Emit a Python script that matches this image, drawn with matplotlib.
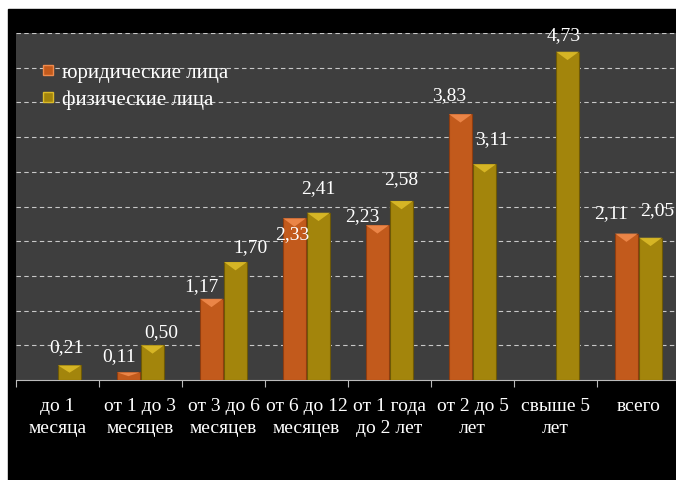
import numpy as np
import matplotlib
matplotlib.use("Agg")
import matplotlib.pyplot as plt
from matplotlib.patches import Polygon, Rectangle
from matplotlib.lines import Line2D

plt.rcParams['font.family'] = ['Liberation Serif', 'DejaVu Serif']

# Данные
categories = ["до 1\nмесяца", "от 1 до 3\nмесяцев", "от 3 до 6\nмесяцев",
              "от 6 до 12\nмесяцев", "от 1 года\nдо 2 лет", "от 2 до 5\nлет",
              "свыше 5\nлет", "всего"]
legal = [np.nan, 0.11, 1.17, 2.33, 2.23, 3.83, np.nan, 2.11]
phys = [0.21, 0.50, 1.70, 2.41, 2.58, 3.11, 4.73, 2.05]
series_names = ["юридические лица", "физические лица"]

# сдвиги подписей (пиксели), как расставил Excel
legal_lbl_off = [(0, 0), (-9, 16), (-10, 12), (-2, -16), (-15, 9), (-11, 19), (0, 0), (-15, 20)]
phys_lbl_off = [(-3, 18), (9, 13), (15, 14), (0, 24), (0, 21), (7, 25), (-4, 16), (7, 27)]

c_legal, c_legal_top, c_legal_edge = "#c25a1c", "#f08a4c", "#8e3d10"
c_phys, c_phys_top, c_phys_edge = "#a3850c", "#dcbb28", "#6e5906"
bg = "#3e3e3e"

fig = plt.figure(figsize=(6.76, 4.8), dpi=100, facecolor="white")
# черная подложка (белая полоса сверху и слева как на скриншоте)
fig.patches.append(Rectangle((8 / 676, 0), 1, (480 - 9) / 480,
                             transform=fig.transFigure, color="black", zorder=-10))

ax = fig.add_axes([16 / 676, 100 / 480, 664 / 676, 347 / 480])
ax.set_facecolor(bg)

x = np.arange(len(categories))
w = 0.275
off = 0.145

b1 = ax.bar(x - off, legal, w, color=c_legal, edgecolor=c_legal_edge, linewidth=0.8, zorder=3)
b2 = ax.bar(x + off, phys, w, color=c_phys, edgecolor=c_phys_edge, linewidth=0.8, zorder=3)

# скошенная верхушка столбцов
for bars, top in ((b1, c_legal_top), (b2, c_phys_top)):
    for r in bars:
        h = r.get_height()
        if np.isnan(h) or h <= 0:
            continue
        x0, bw = r.get_x(), r.get_width()
        d = min(0.12, h * 0.5)
        ax.add_patch(Polygon([(x0, h), (x0 + bw, h), (x0 + bw / 2, h - d)],
                             closed=True, color=top, alpha=0.9, zorder=4, lw=0))

# подписи значений
for bars, vals, offs in ((b1, legal, legal_lbl_off), (b2, phys, phys_lbl_off)):
    for r, v, (dx, dy) in zip(bars, vals, offs):
        if np.isnan(v):
            continue
        ax.annotate(f"{v:.2f}".replace(".", ","),
                    (r.get_x() + r.get_width() / 2, v),
                    xytext=(dx, dy), textcoords="offset pixels",
                    ha="center", va="center", color="white", fontsize=14, zorder=5)

ax.set_ylim(0, 5)
ax.set_xlim(-0.5, len(categories) - 0.5)
ax.set_yticks(np.arange(0.5, 5.01, 0.5))
ax.yaxis.grid(True, color="#c8c8c8", linestyle=(0, (4, 3)), linewidth=0.8, zorder=0)
ax.tick_params(axis="y", left=False, labelleft=False)

ax.set_xticks(np.arange(-0.5, len(categories), 1.0))
ax.set_xticklabels([])
ax.set_xticks(x, minor=True)
ax.set_xticklabels(categories, minor=True, color="white", fontsize=14, linespacing=1.4)
ax.tick_params(axis="x", which="major", length=5, color="#bbbbbb", width=0.8)
ax.tick_params(axis="x", which="minor", length=0, pad=13)

for s in ("top", "right", "left"):
    ax.spines[s].set_visible(False)
ax.spines["bottom"].set_color("#bbbbbb")
ax.spines["bottom"].set_linewidth(0.8)

handles = [Line2D([], [], marker="s", linestyle="none", markersize=7,
                  markerfacecolor=c_legal, markeredgecolor=c_legal_top),
           Line2D([], [], marker="s", linestyle="none", markersize=7,
                  markerfacecolor=c_phys, markeredgecolor=c_phys_top)]
leg = ax.legend(handles, series_names, loc="upper left", bbox_to_anchor=(0.026, 0.937),
                frameon=False, fontsize=15, labelcolor="white", handlelength=0.6,
                handletextpad=0.4, labelspacing=0.35, borderaxespad=0)

fig.savefig("out.png", dpi=100, facecolor=fig.get_facecolor())
